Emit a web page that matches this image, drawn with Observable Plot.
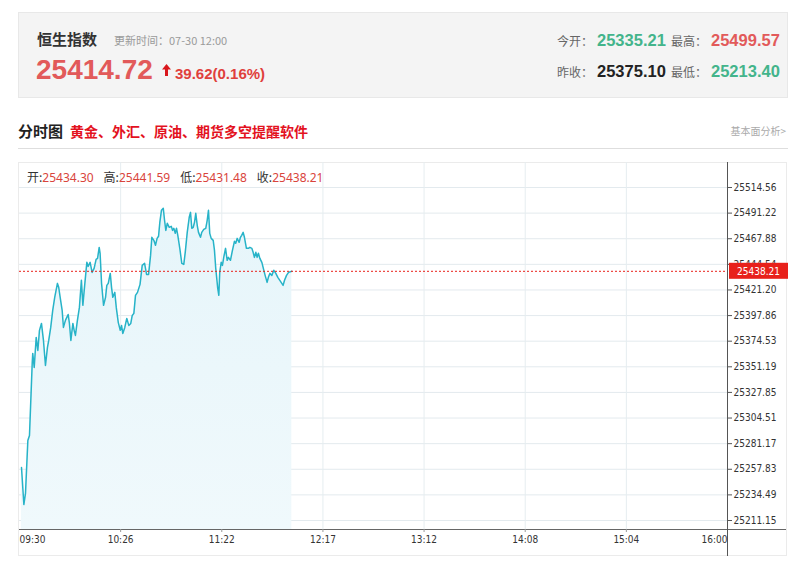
<!DOCTYPE html>
<html>
<head>
<meta charset="utf-8">
<script src="https://cdn.jsdelivr.net/npm/d3@7"></script>
<script src="https://cdn.jsdelivr.net/npm/@observablehq/plot@0.6"></script>
<style>
  html, body { margin: 0; padding: 0; background: #fff; }
  body { width: 800px; height: 583px; position: relative; overflow: hidden;
         font-family: "Noto Sans CJK SC", "Liberation Sans", sans-serif; }
  .abs { position: absolute; white-space: nowrap; }
  .hdr { left: 18px; top: 12px; width: 770px; height: 86px; background: #f4f4f4;
         border: 1px solid #e8e8e8; box-sizing: border-box; }
  .num { font-family: "Liberation Sans", Arial, sans-serif; font-weight: bold; }
  .lbl { font-size: 12px; color: #666; line-height: 16px; }
  .val { font-size: 16.5px; line-height: 20px; }
  .panel { left: 18px; top: 162px; width: 769px; height: 394px; border: 1px solid #ebebeb;
           box-sizing: border-box; }
  .ohlc { font-size: 12px; line-height: 16px; color: #333;
          font-family: "Noto Sans CJK SC", "Liberation Sans", sans-serif; }
  .ohlc span.v { color: #d9443c; font-family: "Noto Sans", "Liberation Sans", sans-serif; }
  #chart { position: absolute; left: 18px; top: 162px; }
</style>
</head>
<body>
<script>
// ---- header data ----
const indexName = "恒生指数";
const updateTime = "更新时间：07-30 12:00";
const currentPrice = "25414.72";
const change = "39.62(0.16%)";
const openLabel = "今开：", openValue = "25335.21";
const highLabel = "最高：", highValue = "25499.57";
const prevLabel = "昨收：", prevValue = "25375.10";
const lowLabel = "最低：", lowValue = "25213.40";
const sectionTitle = "分时图";
const promoText = "黄金、外汇、原油、期货多空提醒软件";
const linkText = "基本面分析>";
const barLabels = ["开:", "高:", "低:", "收:"];
const barValues = ["25434.30", "25441.59", "25431.48", "25438.21"];

// ---- chart data (minutes after 09:30, price) ----
const minutes = [1.1,2.4,3.3,4.6,5.5,7.0,7.3,8.1,9.2,10.1,11.0,12.1,13.2,14.3,15.4,16.1,17.2,18.3,19.4,20.9,
  21.6,22.4,23.5,24.2,25.3,26.8,27.5,28.3,29.4,30.1,30.8,31.9,33.0,34.1,34.9,36.0,37.1,37.8,38.9,40.0,
  41.1,42.2,43.0,43.9,44.4,45.2,46.3,47.4,48.1,48.9,50.0,50.7,51.4,52.5,53.3,54.4,55.5,56.2,56.9,58.0,
  59.1,60.2,61.3,62.1,63.0,63.9,65.0,66.4,67.6,68.9,70.0,71.1,72.2,72.9,74.0,74.9,75.8,76.6,77.3,78.2,
  79.2,79.9,80.6,81.4,82.5,83.6,84.3,85.0,85.8,86.5,87.2,88.3,89.4,90.5,91.3,92.4,93.5,94.2,94.9,95.7,
  96.4,97.1,97.9,98.6,99.7,100.4,101.5,102.6,103.4,104.1,104.8,105.6,106.7,107.4,108.1,109.2,109.8,110.3,111.1,111.8,
  112.5,113.5,114.4,115.1,116.2,117.3,118.4,119.1,119.9,121.0,121.7,122.4,123.2,123.9,125.0,126.1,126.9,128.0,128.7,129.4,
  130.2,130.9,131.6,132.4,133.5,134.6,135.3,136.4,137.1,137.9,139.0,140.1,141.2,142.3,143.4,144.5,145.2,146.0,147.1,148.2,150.0];
const prices = [25259.5,25225.7,25235.8,25284.1,25288.6,25354.3,25363.4,25350.6,25378.0,25366.1,25384.4,25390.7,25375.2,25352.4,25368.9,25375.2,25387.1,25402.6,25414.5,25427.2,
  25423.6,25414.5,25402.6,25387.1,25393.5,25398.9,25390.7,25375.2,25390.7,25384.4,25379.8,25393.5,25405.3,25430.0,25407.2,25427.2,25446.4,25442.7,25446.4,25437.2,
  25440.9,25449.1,25450.0,25460.0,25454.6,25427.2,25407.2,25414.5,25425.4,25427.2,25436.3,25423.6,25414.5,25419.0,25405.3,25391.7,25384.4,25388.9,25381.6,25387.1,
  25395.3,25388.9,25390.7,25398.0,25399.9,25416.3,25419.0,25426.3,25443.6,25445.5,25435.4,25435.4,25452.7,25469.2,25466.4,25461.9,25468.2,25470.1,25482.8,25493.8,
  25495.6,25484.7,25475.5,25481.9,25478.3,25479.2,25475.5,25477.4,25472.8,25477.4,25471.0,25459.1,25445.5,25444.5,25455.5,25473.7,25487.4,25491.9,25477.4,25478.3,
  25482.8,25491.0,25480.1,25473.7,25469.2,25473.7,25476.4,25477.4,25484.7,25493.8,25472.8,25468.2,25466.4,25457.3,25440.9,25422.7,25416.3,25437.2,25446.4,25443.6,
  25450.9,25459.1,25448.2,25450.9,25448.2,25457.3,25465.5,25463.7,25468.2,25464.6,25469.2,25471.0,25473.7,25469.2,25459.1,25459.1,25460.0,25459.1,25455.5,25450.9,
  25455.5,25450.9,25454.6,25450.0,25446.4,25439.1,25434.5,25428.1,25432.7,25436.3,25434.5,25439.1,25436.3,25432.7,25430.0,25427.2,25425.4,25430.0,25434.5,25437.2,25438.21];

const xTickLabels = ["09:30","10:26","11:22","12:17","13:12","14:08","15:04","16:00"];
const yTickLabels = ["25211.15","25234.49","25257.83","25281.17","25304.51","25327.85","25351.19",
  "25374.53","25397.86","25421.20","25444.54","25467.88","25491.22","25514.56"];
const sessionMinutes = 390;
const yDomain = [25202.95, 25537.34];

// ---- header html ----
function el(cls, style, html) {
  const d = document.createElement("div");
  d.className = "abs " + (cls || "");
  Object.assign(d.style, style);
  d.innerHTML = html;
  document.body.appendChild(d);
  return d;
}
el("hdr", {}, "");
el("", {left:"37px", top:"28px", fontSize:"15px", fontWeight:"bold", color:"#333", lineHeight:"22px"}, indexName);
el("", {left:"114px", top:"32px", fontSize:"11px", color:"#9a9a9a", lineHeight:"16px"}, updateTime);
el("num", {left:"36px", top:"54px", fontSize:"28px", color:"#e25a5a", lineHeight:"32px"}, currentPrice);
el("", {left:"162px", top:"64px"}, '<svg width="9" height="12" viewBox="0 0 9 12" style="display:block"><path d="M4.5 0 L9 5.5 L6 5.5 L6 12 L3 12 L3 5.5 L0 5.5 Z" fill="#d9161c"/></svg>');
el("num", {left:"175px", top:"65px", fontSize:"15px", color:"#e0403c", lineHeight:"18px"}, change);

el("lbl", {left:"557px", top:"33px"}, openLabel);
el("num val", {left:"597px", top:"30px", color:"#43b48b"}, openValue);
el("lbl", {left:"671px", top:"33px"}, highLabel);
el("num val", {left:"711px", top:"30px", color:"#e25a5a"}, highValue);
el("lbl", {left:"557px", top:"64px"}, prevLabel);
el("num val", {left:"597px", top:"61px", color:"#222"}, prevValue);
el("lbl", {left:"671px", top:"64px"}, lowLabel);
el("num val", {left:"711px", top:"61px", color:"#43b48b"}, lowValue);

el("", {left:"18px", top:"120px", fontSize:"15px", fontWeight:"bold", color:"#222", lineHeight:"22px"}, sectionTitle);
el("", {left:"70px", top:"121px", fontSize:"14px", fontWeight:"bold", color:"#e3121e", lineHeight:"20px"}, promoText);
el("", {right:"14px", top:"123px", fontSize:"10px", color:"#aaa", lineHeight:"16px"}, linkText);
el("", {left:"18px", top:"148px", width:"770px", height:"1px", background:"#dedede"}, "");
el("panel", {}, "");

// ---- chart ----
const data = minutes.map((m, i) => ({m, p: prices[i]}));
const last = data[data.length - 1];
const xTicks = xTickLabels.map((_, i) => i * sessionMinutes / (xTickLabels.length - 1));
const yTicks = yTickLabels.map(Number);
const fmtX = d => xTickLabels[Math.round(d * (xTickLabels.length - 1) / sessionMinutes)];

const chart = Plot.plot({
  width: 770, height: 394,
  marginLeft: 1, marginRight: 61, marginTop: 0, marginBottom: 27,
  style: {fontFamily: '"DejaVu Sans Condensed","DejaVu Sans",sans-serif', fontSize: "10px",
          color: "#333", background: "transparent", overflow: "visible"},
  x: {domain: [0, sessionMinutes], label: null},
  y: {domain: yDomain, label: null},
  marks: [
    Plot.gridY(yTicks, {stroke: "#e3eaee", strokeOpacity: 1}),
    Plot.gridX(xTicks.slice(1, -1), {stroke: "#e6edf0", strokeOpacity: 1}),
    Plot.areaY(data, {x: "m", y1: yDomain[0], y2: "p", fill: "url(#areaGrad)"}),
    Plot.lineY(data, {x: "m", y: "p", stroke: "#27b3c8", strokeWidth: 1.5}),
    Plot.ruleY([last.p], {stroke: "#e8211b", strokeDasharray: "2,2", strokeWidth: 1}),
    Plot.ruleY([yDomain[0]], {stroke: "#666", insetRight: -59}),
    Plot.ruleX([sessionMinutes], {stroke: "#555", insetBottom: -27}),
    Plot.axisY(yTicks, {anchor: "right", tickSize: 4, tickPadding: 2, stroke: "#555", label: null,
                        fill: "#333", tickFormat: d => d.toFixed(2)}),
    Plot.axisX(xTicks.slice(1, -1), {tickSize: 3, tickPadding: 3, stroke: "#999", fill: "#333", label: null, tickFormat: fmtX}),
    Plot.axisX([xTicks[0]], {tickSize: 0, tickPadding: 6, textAnchor: "start", fill: "#333", label: null, tickFormat: fmtX}),
    Plot.axisX([xTicks[xTicks.length - 1]], {tickSize: 0, tickPadding: 6, textAnchor: "end", fill: "#333", label: null, tickFormat: fmtX}),
    Plot.rect([last], {x1: sessionMinutes, x2: sessionMinutes, y1: "p", y2: "p",
                       insetLeft: 2, insetRight: -61, insetTop: -8, insetBottom: -8, fill: "#e8211b"}),
    Plot.text([last], {x: sessionMinutes, y: "p", text: d => d.p.toFixed(2), dx: 31,
                       fill: "white", fontSize: 10})
  ]
});
const defs = d3.select(chart).insert("defs", ":first-child");
const g = defs.append("linearGradient").attr("id", "areaGrad").attr("x1", 0).attr("y1", 0).attr("x2", 0).attr("y2", 1);
g.append("stop").attr("offset", "0%").attr("stop-color", "#e6f5fa");
g.append("stop").attr("offset", "100%").attr("stop-color", "#f0f9fc");
chart.id = "chart";
document.body.appendChild(chart);

// ---- last bar info ----
el("ohlc", {left:"27px", top:"169px"},
  barLabels.map((l, i) => `<span style="display:inline-block;margin-right:${i < 3 ? 10 : 0}px">${l}<span class="v">${barValues[i]}</span></span>`).join(""));
</script>
</body>
</html>
